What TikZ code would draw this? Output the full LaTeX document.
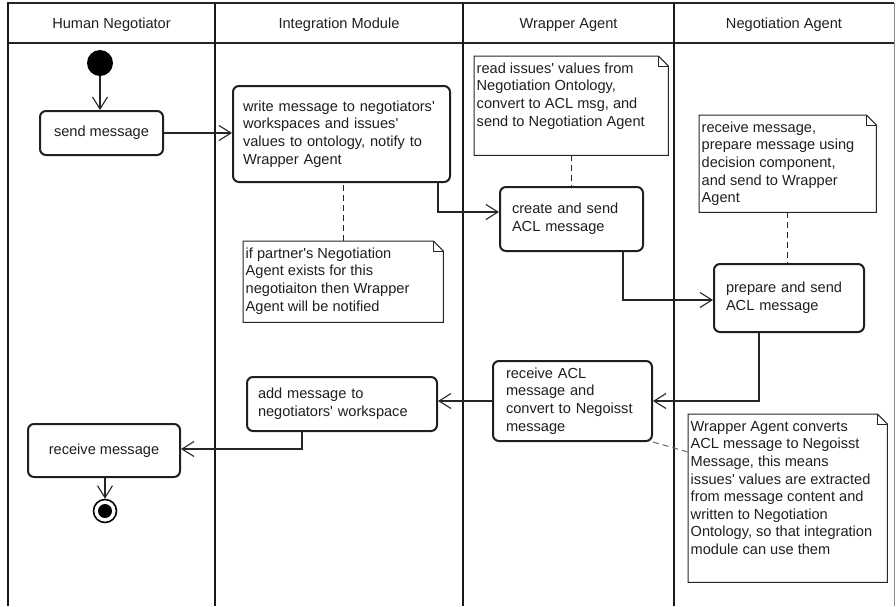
\documentclass[tikz,border=0pt]{standalone}
\usepackage{fontspec}
\setmainfont{Liberation Sans}
\usetikzlibrary{arrows.meta,calc}

% straight apostrophe
\newcommand\ap{\textquotesingle}

% UML note: name, left, top, width, height, text
\newcommand\umlnote[6]{%
  \node[notebox,minimum width=#4pt,minimum height=#5pt,anchor=north west] (#1) at (#2,#3) {};
  \draw[noteline] (#1.north west) -- ([xshift=-10pt]#1.north east)
    -- ([yshift=-10pt]#1.north east) -- (#1.south east) -- (#1.south west) -- cycle;
  \draw[noteline] ([xshift=-10pt]#1.north east) |- ([yshift=-10pt]#1.north east);
  \node[notetext] (#1-text) at ([xshift=2.5pt,yshift=-4.7pt]#1.north west) {\strut #6};
}

\begin{document}
\begin{tikzpicture}[x=1pt,y=-1pt,
  every node/.style={font=\fontsize{14.6}{17.6}\selectfont,text=black!88},
  lane/.style={line width=2.6pt,draw=black!90},
  headrule/.style={line width=2pt,draw=black!85},
  frameedge/.style={line width=0.9pt,draw=black!45},
  lanetitle/.style={inner sep=0pt,anchor=center},
  action/.style={draw=black!88,line width=2pt,rounded corners=6pt,fill=white,inner ysep=0pt,align=left},
  notebox/.style={inner sep=0pt},
  notetext/.style={inner sep=0pt,align=left,anchor=north west},
  noteline/.style={line width=1pt,draw=black!85},
  flow/.style={line width=1.1pt,draw=black!85,-{Straight Barb[length=12pt,width=15pt,line width=1.1pt]}},
  link/.style={line width=1.1pt,draw=black!85,dash pattern=on 6pt off 4pt},
  startnode/.style={circle,fill=black,minimum size=26pt,inner sep=0pt},
  endnode/.style={circle,draw=black,line width=1.6pt,minimum size=23pt,inner sep=0pt,
    path picture={\fill[black] (path picture bounding box.center) circle (7pt);}}
]
\useasboundingbox (0,0) rectangle (896,606);

% swimlane frame
\draw[frameedge] (894,3) -- (894,606);
\draw[headrule] (7,3) -- (894,3);
\draw[headrule] (7,43) -- (894,43);
\draw[lane] (8,3) -- (8,606);
\draw[lane] (215,3) -- (215,606);
\draw[lane] (463,3) -- (463,606);
\draw[lane] (674,3) -- (674,606);

% lane titles
\node[lanetitle] (t1) at (111.5,25) {Human Negotiator};
\node[lanetitle] (t2) at (339,25) {Integration Module};
\node[lanetitle] (t3) at (568.5,25) {Wrapper Agent};
\node[lanetitle] (t4) at (784,25) {Negotiation Agent};

% notes
\umlnote{noteread}{474}{56}{194}{99}{read issues\ap{} values from\\Negotiation Ontology,\\convert to ACL msg, and\\send to Negotiation Agent}
\umlnote{noterecv}{699}{115}{177}{97}{receive message,\\prepare message using\\decision component,\\and send to Wrapper\\Agent}
\umlnote{noteif}{243}{241}{200}{81}{if partner\ap s Negotiation\\Agent exists for this\\negotiaiton then Wrapper\\Agent will be notified}
\umlnote{notewrap}{688}{414}{199}{168}{Wrapper Agent converts\\ACL message to Negoisst\\Message, this means\\issues\ap{} values are extracted\\from message content and\\written to Negotiation\\Ontology, so that integration\\module can use them}

% actions
\node[startnode] (start) at (100,63) {};
\node[action,align=center,minimum width=123pt,minimum height=44pt] (send) at (101.5,133) {send message};
\node[action,text width=197pt,inner xsep=10pt,minimum height=96pt] (write) at (341.5,134)
  {write message to negotiators\ap\\workspaces and issues\ap\\values to ontology, notify to\\Wrapper Agent};
\node[action,text width=119pt,inner xsep=12pt,minimum height=64pt] (create) at (571.5,219)
  {create and send\\ACL message};
\node[action,text width=126pt,inner xsep=12pt,minimum height=68pt] (prepare) at (789,298)
  {prepare and send\\ACL message};
\node[action,text width=133pt,inner xsep=13pt,minimum height=80pt] (recvacl) at (572.5,401)
  {receive ACL\\message and\\convert to Negoisst\\message};
\node[action,text width=168pt,inner xsep=11pt,minimum height=54pt] (add) at (342,404)
  {add message to\\negotiators\ap{} workspace};
\node[action,align=center,minimum width=152pt,minimum height=53pt] (receive) at (104,450.5) {receive message};
\node[endnode] (end) at (105,511) {};

% control flow
\draw[flow] (start) -- (start |- send.north);
\draw[flow] (send) -- (send -| write.west);
\draw[flow] ([xshift=-13pt]write.south east) |- ([yshift=7pt]create.west);
\draw[flow] ([xshift=-21pt]create.south east) |- ([yshift=-2pt]prepare.west);
\draw[flow] ([xshift=46pt]prepare.south west) |- (recvacl.east);
\draw[flow] (recvacl.west) -- (recvacl.west -| add.east);
\draw[flow] ([xshift=56pt]add.south west) |- ([yshift=1.5pt]receive.east);
\draw[flow] (end |- receive.south) -- (end);

% note attachments
\draw[link] (noteif.north) -- (noteif.north |- write.south);
\draw[link] (noteread.south) -- (noteread.south |- create.north);
\draw[link] (noterecv.south) -- (noterecv.south |- prepare.north);
\draw[link,draw=black!55] (recvacl.south east) -- ([yshift=-38pt]notewrap.north west);
\end{tikzpicture}
\end{document}
